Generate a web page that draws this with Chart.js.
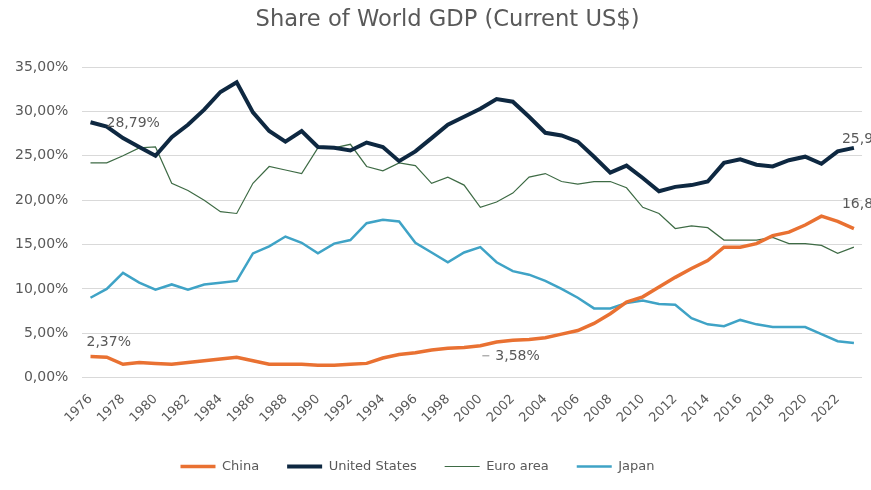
<!DOCTYPE html>
<html>
<head>
<meta charset="utf-8">
<script src="https://cdn.jsdelivr.net/npm/chart.js@4.4.0/dist/chart.umd.min.js"></script>
<style>
  html, body { margin: 0; padding: 0; background: #ffffff; }
  #wrap { width: 871px; height: 490px; }
</style>
</head>
<body>
<div id="wrap"><canvas id="c" width="871" height="490"></canvas></div>
<script>
const years = [];
for (let y = 1976; y <= 2023; y++) years.push(String(y));

const china = [2.37, 2.3, 1.5, 1.7, 1.6, 1.5, 1.7, 1.9, 2.1, 2.3, 1.9, 1.5, 1.5, 1.5, 1.4, 1.4, 1.5, 1.6, 2.2, 2.6, 2.8, 3.1, 3.3, 3.4, 3.58, 4.0, 4.2, 4.3, 4.5, 4.9, 5.3, 6.1, 7.2, 8.5, 9.1, 10.2, 11.3, 12.3, 13.2, 14.7, 14.7, 15.1, 16.0, 16.4, 17.2, 18.2, 17.6, 16.8];
const us = [28.79, 28.3, 27.0, 26.0, 25.0, 27.1, 28.5, 30.2, 32.2, 33.3, 29.9, 27.8, 26.6, 27.8, 26.0, 25.9, 25.6, 26.5, 26.0, 24.4, 25.5, 27.0, 28.5, 29.4, 30.3, 31.4, 31.1, 29.4, 27.6, 27.3, 26.6, 24.9, 23.1, 23.9, 22.5, 21.0, 21.5, 21.7, 22.1, 24.2, 24.6, 24.0, 23.8, 24.5, 24.9, 24.1, 25.5, 25.9];
const euro = [24.2, 24.2, 25.0, 25.9, 26.0, 21.9, 21.1, 20.0, 18.7, 18.5, 21.9, 23.8, 23.4, 23.0, 25.9, 25.9, 26.3, 23.8, 23.3, 24.2, 23.9, 21.9, 22.6, 21.7, 19.2, 19.8, 20.8, 22.6, 23.0, 22.1, 21.8, 22.1, 22.1, 21.4, 19.2, 18.5, 16.8, 17.1, 16.9, 15.5, 15.5, 15.5, 15.8, 15.1, 15.1, 14.9, 14.0, 14.7];
const japan = [9.0, 10.0, 11.8, 10.7, 9.9, 10.5, 9.9, 10.5, 10.7, 10.9, 14.0, 14.8, 15.9, 15.2, 14.0, 15.1, 15.5, 17.4, 17.8, 17.6, 15.2, 14.1, 13.0, 14.1, 14.7, 13.0, 12.0, 11.6, 10.9, 10.0, 9.0, 7.8, 7.8, 8.4, 8.7, 8.3, 8.2, 6.7, 6.0, 5.8, 6.5, 6.0, 5.7, 5.7, 5.7, 4.9, 4.1, 3.9];

const yTicks = [0, 5, 10, 15, 20, 25, 30, 35];

// annotations: [dataset index, data index, text, dx, dy, leader line]
const annotations = [
  [1, 0, "28,79%", 16, 1, false],
  [0, 0, "2,37%", -4, -14, false],
  [0, 24, "3,58%", 15, 11, true],
  [1, 47, "25,9", -12, -8, false],
  [0, 47, "16,8", -12, -24, false]
];

const FONT = '"DejaVu Sans", sans-serif';
const fmt = v => v.toFixed(2).replace('.', ',') + '%';

const annotPlugin = {
  id: 'annot',
  afterLayout(chart) {
    if (chart.legend) { chart.legend.left -= 16; chart.legend.right -= 16; }
    if (chart.titleBlock) { chart.titleBlock.left += 14; chart.titleBlock.right += 14; }
  },
  afterDatasetsDraw(chart) {
    const ctx = chart.ctx;
    ctx.save();
    ctx.font = '14px ' + FONT;
    ctx.fillStyle = '#595959';
    ctx.textBaseline = 'middle';
    ctx.textAlign = 'left';
    annotations.forEach(a => {
      const pt = chart.getDatasetMeta(a[0]).data[a[1]];
      const x = pt.x + a[3], y = pt.y + a[4];
      if (a[5]) {
        ctx.strokeStyle = '#8c8c8c';
        ctx.lineWidth = 1;
        ctx.beginPath();
        ctx.moveTo(x - 13, y - 1);
        ctx.lineTo(x - 6, y - 1);
        ctx.stroke();
      }
      ctx.fillText(a[2], x, y);
    });
    ctx.restore();
  }
};

new Chart(document.getElementById('c'), {
  type: 'line',
  data: {
    labels: years,
    datasets: [
      { label: 'China', data: china, borderColor: '#E97132', backgroundColor: '#E97132', borderWidth: 3.5, pointRadius: 0, tension: 0 },
      { label: 'United States', data: us, borderColor: '#0E2841', backgroundColor: '#0E2841', borderWidth: 4, pointRadius: 0, tension: 0 },
      { label: 'Euro area', data: euro, borderColor: '#3E6B45', backgroundColor: '#3E6B45', borderWidth: 1.2, pointRadius: 0, tension: 0 },
      { label: 'Japan', data: japan, borderColor: '#3FA3C6', backgroundColor: '#3FA3C6', borderWidth: 2.5, pointRadius: 0, tension: 0 }
    ]
  },
  options: {
    responsive: false,
    animation: false,
    layout: { padding: { left: 1, right: 5, top: 0, bottom: 7 } },
    plugins: {
      title: {
        display: true,
        text: 'Share of World GDP (Current US$)',
        color: '#595959',
        font: { family: FONT, size: 22.6, weight: 'normal' },
        padding: { top: 7, bottom: 33 }
      },
      legend: {
        position: 'bottom',
        labels: {
          color: '#595959',
          font: { family: FONT, size: 13 },
          usePointStyle: true,
          pointStyle: 'line',
          pointStyleWidth: 35,
          padding: 28
        }
      },
      tooltip: { enabled: false }
    },
    scales: {
      x: {
        type: 'category',
        offset: true,
        grid: { display: false },
        border: { display: false },
        ticks: {
          autoSkip: false,
          maxRotation: 45,
          minRotation: 45,
          padding: 6,
          color: '#595959',
          font: { family: FONT, size: 13 },
          callback: function(val, idx) { return idx % 2 === 0 ? this.getLabelForValue(val) : ''; }
        }
      },
      y: {
        min: 0,
        max: 35,
        border: { display: false },
        grid: { color: '#d9d9d9', drawTicks: false },
        afterBuildTicks: axis => { axis.ticks = yTicks.map(v => ({ value: v })); },
        ticks: {
          color: '#595959',
          padding: 14,
          font: { family: FONT, size: 14 },
          callback: v => fmt(v)
        }
      }
    }
  },
  plugins: [annotPlugin]
});
</script>
</body>
</html>
